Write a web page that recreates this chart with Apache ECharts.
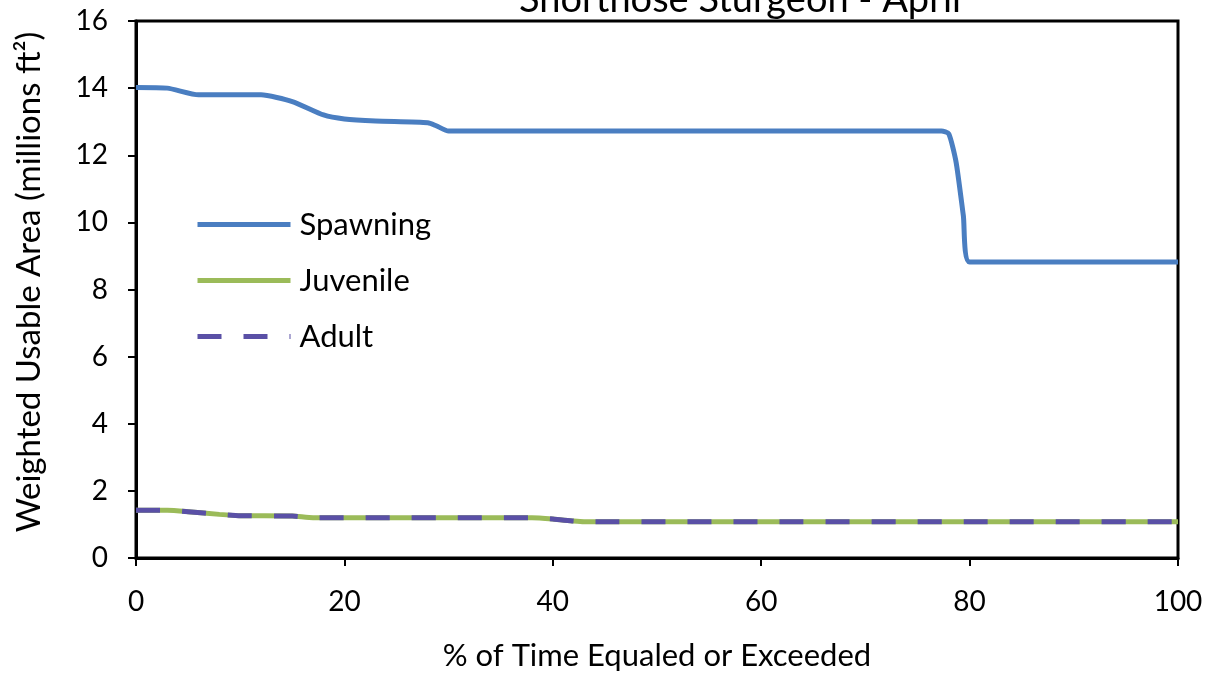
<!DOCTYPE html>
<html>
<head>
<meta charset="utf-8">
<script src="https://cdn.jsdelivr.net/npm/echarts@6/dist/echarts.min.js"></script>
<style>
html,body{margin:0;padding:0;background:#fff;}
#c{width:1213px;height:677px;}
</style>
</head>
<body>
<div id="c"></div>
<script>
var titleText = "Shortnose Sturgeon - April";
var xAxisName = "% of Time Equaled or Exceeded";
var yAxisName = "Weighted Usable Area (millions ft\u00B2)";
var seriesNames = ["Spawning", "Juvenile", "Adult"];

var spawnX = [0, 3, 6, 12, 15, 18, 20, 23, 28, 28.8, 30, 77.3, 78, 78.7, 79.4, 80, 100];
var spawnY = [14.02, 14.0, 13.8, 13.8, 13.6, 13.2, 13.08, 13.02, 12.97, 12.88, 12.72, 12.72, 12.64, 11.8, 10.2, 8.82, 8.82];

var juvX = [0, 3, 5, 8, 10, 15, 17, 38, 40, 42, 43, 100];
var juvY = [1.42, 1.42, 1.38, 1.3, 1.26, 1.25, 1.2, 1.2, 1.16, 1.1, 1.08, 1.08];

var adultX = [0, 3, 5, 8, 10, 15, 17, 38, 40, 42, 43, 100];
var adultY = [1.42, 1.42, 1.38, 1.3, 1.26, 1.25, 1.2, 1.2, 1.16, 1.1, 1.08, 1.08];

function pairs(xs, ys) { return xs.map(function (x, i) { return [x, ys[i]]; }); }

var FONT = "Lato";
var chart = echarts.init(document.getElementById('c'), null, {renderer: 'canvas'});
chart.setOption({
  backgroundColor: '#ffffff',
  animation: false,
  graphic: [{
    type: 'text',
    style: {text: titleText, x: 740, y: 19, fill: '#000', font: '38px ' + FONT,
            textAlign: 'center', textVerticalAlign: 'bottom'}
  }],
  grid: {left: 136, right: 35, top: 21, bottom: 119, show: true, borderColor: '#000', borderWidth: 3, backgroundColor: 'transparent'},
  legend: {
    orient: 'vertical', left: 195, top: 209, padding: 0, itemGap: 25,
    itemWidth: 93, itemHeight: 14,
    itemStyle: {opacity: 0},
    lineStyle: {width: 5},
    textStyle: {fontFamily: FONT, fontSize: 31, color: '#000', lineHeight: 30, padding: [0, 0, 0, 4]},
    data: seriesNames
  },
  xAxis: {
    type: 'value', min: 0, max: 100, interval: 20,
    name: xAxisName, nameLocation: 'middle', nameGap: 82,
    nameTextStyle: {fontFamily: FONT, fontSize: 31, color: '#000'},
    axisLine: {lineStyle: {color: '#000', width: 3}},
    axisTick: {show: true, inside: false, length: 8, lineStyle: {color: '#000', width: 2}},
    axisLabel: {fontFamily: FONT, fontSize: 28, color: '#000', margin: 30},
    splitLine: {show: false}
  },
  yAxis: {
    type: 'value', min: 0, max: 16, interval: 2,
    name: yAxisName, nameLocation: 'middle', nameGap: 90, nameRotate: 90,
    nameTextStyle: {fontFamily: FONT, fontSize: 33, color: '#000', padding: [0, 0, 0, 15]},
    axisLine: {show: true, lineStyle: {color: '#000', width: 3}},
    axisTick: {show: true, inside: false, length: 8, lineStyle: {color: '#000', width: 2}},
    axisLabel: {fontFamily: FONT, fontSize: 28, color: '#000', margin: 28},
    splitLine: {show: false}
  },
  series: [
    {name: seriesNames[0], type: 'line', data: pairs(spawnX, spawnY), symbol: 'none', smooth: 0.2,
     lineStyle: {color: '#4A7EC1', width: 5}, itemStyle: {color: '#4A7EC1'}},
    {name: seriesNames[1], type: 'line', data: pairs(juvX, juvY), symbol: 'none', smooth: 0.2,
     lineStyle: {color: '#9BBB59', width: 5}, itemStyle: {color: '#9BBB59'}},
    {name: seriesNames[2], type: 'line', data: pairs(adultX, adultY), symbol: 'none', smooth: 0.2,
     lineStyle: {color: '#5A50A6', width: 5, type: [24, 22]}, itemStyle: {color: '#5A50A6'}}
  ]
});
</script>
</body>
</html>
